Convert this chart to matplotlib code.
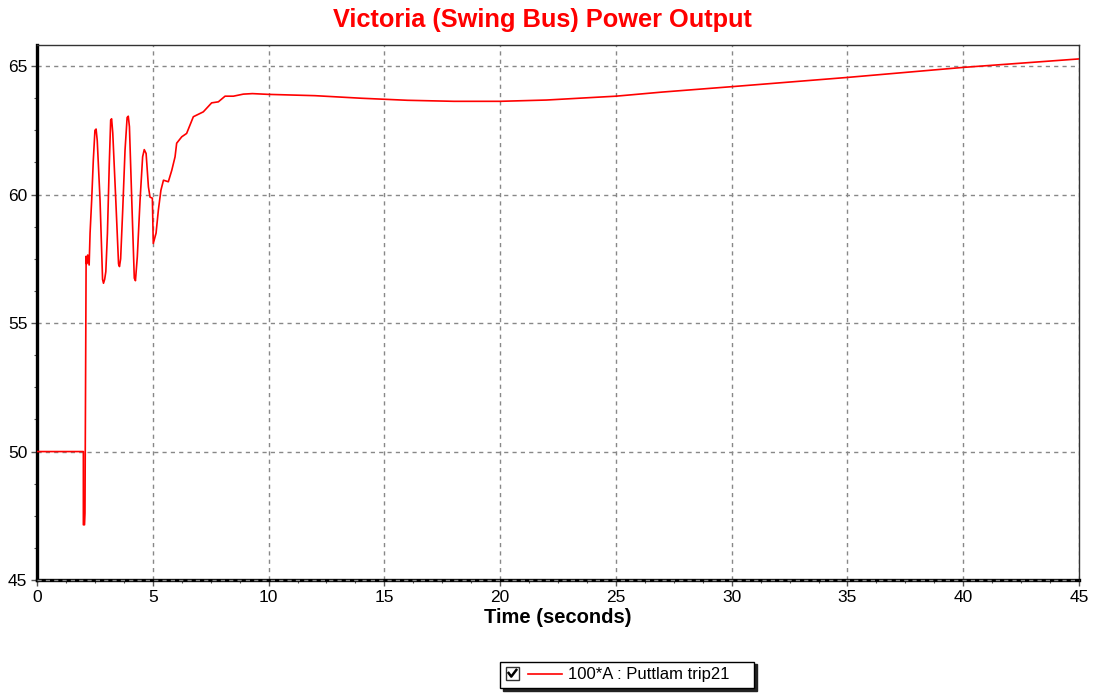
"""Victoria (Swing Bus) power output after the Puttlam trip."""

import matplotlib
matplotlib.use("Agg")
import matplotlib.pyplot as plt
from matplotlib.lines import Line2D
from matplotlib.patches import Rectangle
from matplotlib.legend_handler import HandlerBase
from matplotlib.ticker import MultipleLocator

plt.rcParams.update({
    "font.family": ["Liberation Sans", "DejaVu Sans"],
    "font.size": 12,
})

RED = "#FF0000"
GRID = "#888888"

# time (s) and power (100*A)
TIME = [0.0, 2.0, 2.0, 2.05, 2.07, 2.12, 2.14, 2.19, 2.25, 2.29, 2.36, 2.43,
        2.5, 2.55, 2.6, 2.72, 2.83, 2.87, 2.92, 2.97, 3.04, 3.12, 3.18,
        3.22, 3.27, 3.4, 3.52, 3.56, 3.61, 3.7, 3.8, 3.89, 3.94, 3.99,
        4.09, 4.2, 4.25, 4.33, 4.45, 4.56, 4.63, 4.71, 4.81, 4.88, 4.98,
        5.02, 5.14, 5.24, 5.35, 5.46, 5.67, 5.82, 5.96, 6.03, 6.25, 6.46,
        6.75, 7.18, 7.54, 7.83, 8.12, 8.48, 8.91, 9.3, 10.0, 12.0, 14.0,
        16.0, 18.0, 20.0, 22.0, 25.0, 27.0, 30.0, 35.0, 40.0, 45.0]
POWER = [50.0, 50.0, 47.15, 47.15, 47.6, 57.6, 57.3, 57.65, 57.26, 58.5,
         59.8, 61.34, 62.5, 62.55, 62.1, 59.8, 56.7, 56.55, 56.7, 57.0,
         58.5, 61.2, 62.9, 62.95, 62.4, 59.8, 57.3, 57.2, 57.5, 59.4,
         61.73, 63.0, 63.05, 62.64, 59.8, 56.75, 56.65, 57.58, 59.8, 61.47,
         61.75, 61.6, 60.3, 59.9, 59.86, 58.1, 58.5, 59.4, 60.17, 60.56,
         60.5, 60.95, 61.47, 62.0, 62.25, 62.38, 63.03, 63.22, 63.57,
         63.61, 63.83, 63.83, 63.91, 63.93, 63.9, 63.85, 63.75, 63.67,
         63.63, 63.63, 63.68, 63.83, 63.99, 64.2, 64.56, 64.95, 65.28]

LABEL = "100*A : Puttlam trip21"


class CheckLineHandler(HandlerBase):
    """Checkbox followed by the series line, like the app's legend."""

    def create_artists(self, legend, orig_handle, xdescent, ydescent,
                       width, height, fontsize, trans):
        s = 0.8 * fontsize
        x0 = -xdescent
        ymid = -ydescent + height / 2
        y0 = ymid - s / 2
        rect = Rectangle((x0, y0), s, s, facecolor="white",
                         edgecolor="#333333", linewidth=1.0, transform=trans)
        chk = Line2D([x0 + 0.22 * s, x0 + 0.42 * s, x0 + 0.8 * s],
                     [y0 + 0.55 * s, y0 + 0.28 * s, y0 + 0.78 * s],
                     color="black", linewidth=1.8, transform=trans)
        line = Line2D([x0 + s + 0.55 * fontsize, x0 + width], [ymid, ymid],
                      color=orig_handle.get_color(),
                      linewidth=orig_handle.get_linewidth(), transform=trans)
        return [rect, chk, line]


def main():
    fig = plt.figure(figsize=(10.96, 6.93), dpi=100)
    ax = fig.add_axes([0.0338, 0.163, 0.9507, 0.772])

    ax.plot(TIME, POWER, color=RED, linewidth=1.2, zorder=3)

    ax.set_xlim(0, 45)
    ax.set_ylim(45, 65.82)
    ax.xaxis.set_major_locator(MultipleLocator(5))
    ax.xaxis.set_minor_locator(MultipleLocator(1.25))
    ax.yaxis.set_major_locator(MultipleLocator(5))
    ax.yaxis.set_minor_locator(MultipleLocator(1.25))
    ax.tick_params(which="major", length=4, width=1, color="#555555",
                   labelsize=12.5, pad=3)
    ax.tick_params(which="minor", length=2.5, width=0.8, color="#555555")

    ax.grid(True, which="major", color=GRID, linestyle=(0, (3, 3)),
            linewidth=1.0)
    ax.axhline(45, color=GRID, linestyle=(0, (3, 3)), linewidth=1.0,
               zorder=6, clip_on=False)

    for side in ("left", "bottom"):
        ax.spines[side].set_linewidth(2.4)
        ax.spines[side].set_color("black")
    for side in ("top", "right"):
        ax.spines[side].set_linewidth(1.0)
        ax.spines[side].set_color("#333333")

    fig.text(0.495, 0.971, "Victoria (Swing Bus) Power Output", color=RED,
             fontsize=18.3, fontweight="bold", ha="center", va="center")
    ax.set_xlabel("Time (seconds)", fontsize=14.5, fontweight="bold",
                  labelpad=2)

    line = Line2D([], [], color=RED, linewidth=1.2)
    leg = fig.legend(handles=[line], labels=[LABEL + "    "],
                     handler_map={Line2D: CheckLineHandler()},
                     loc="center", bbox_to_anchor=(0.572, 0.026),
                     fontsize=12, frameon=True, fancybox=False,
                     shadow={"color": "#222222", "alpha": 1.0},
                     handlelength=3.4, handletextpad=0.35,
                     borderpad=0.35, borderaxespad=0)
    leg.get_frame().set_edgecolor("black")
    leg.get_frame().set_linewidth(1.0)

    fig.savefig("out.png", dpi=100, facecolor="white")
    plt.close(fig)


if __name__ == "__main__":
    main()
